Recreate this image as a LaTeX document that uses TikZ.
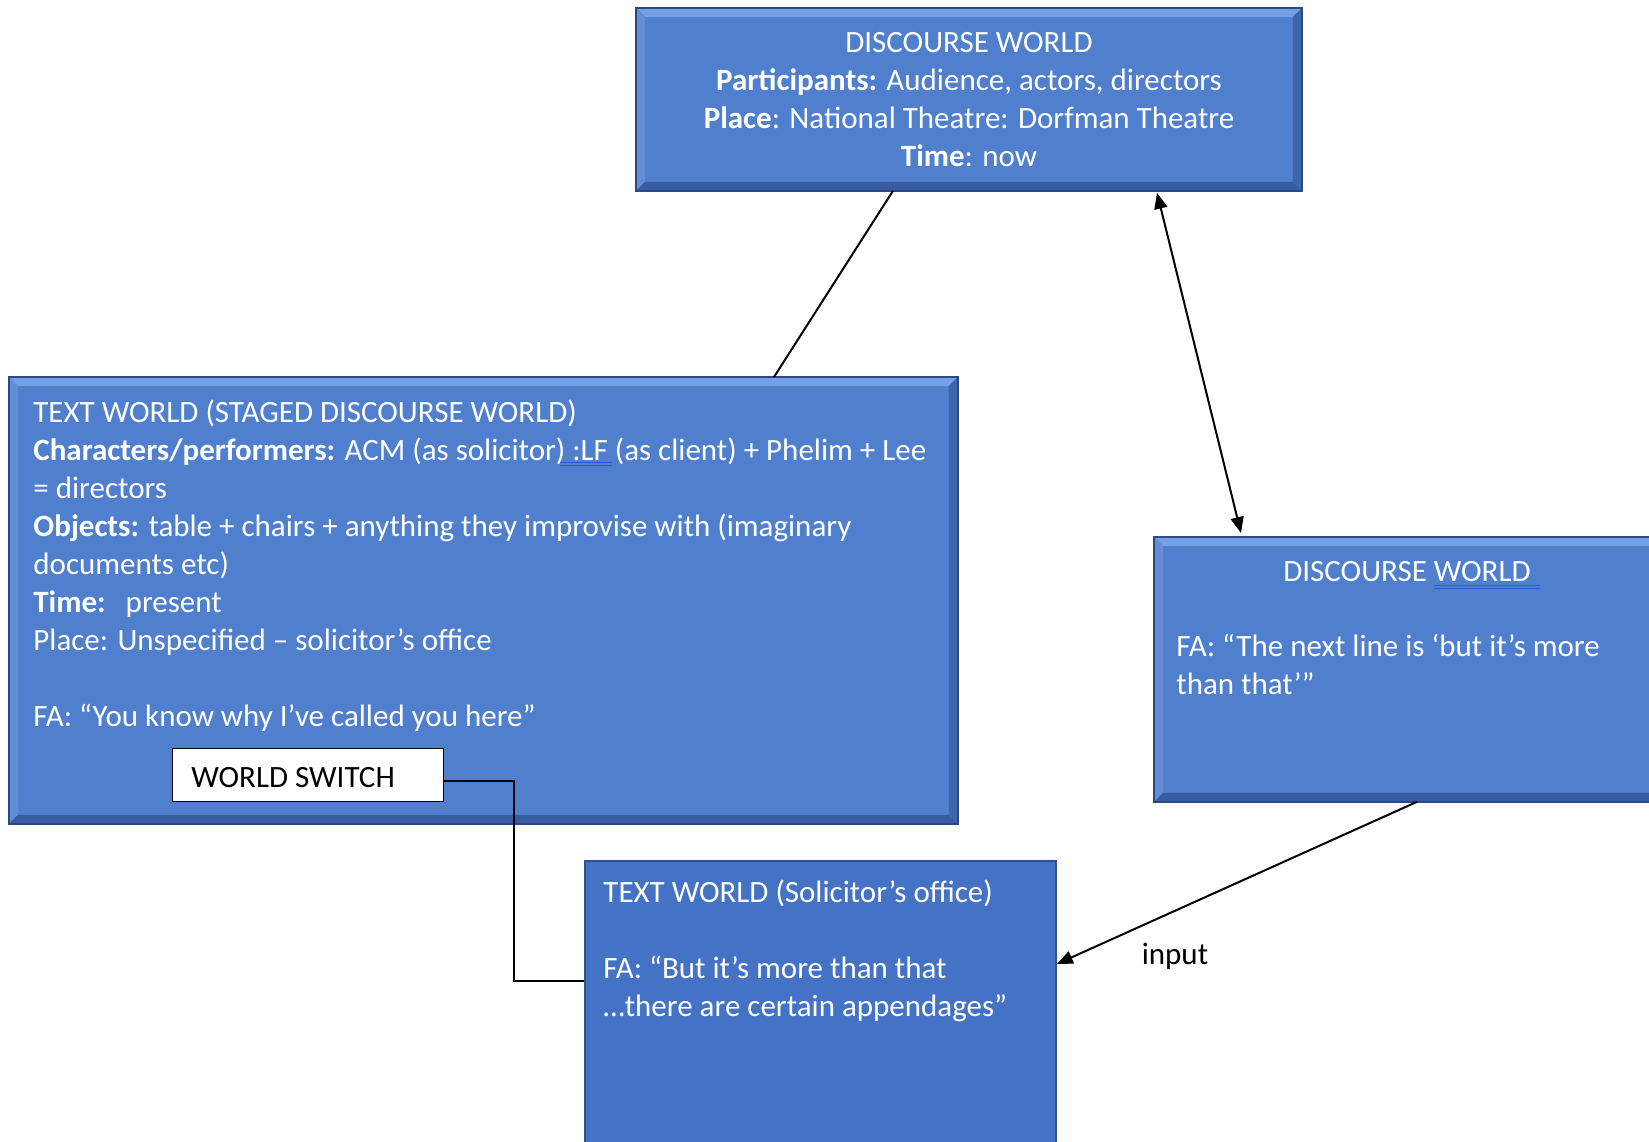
\documentclass[tikz,border=0pt]{standalone}
\usepackage{fontspec}
\setmainfont{Carlito}
\usetikzlibrary{arrows.meta,calc}

\definecolor{worldfill}{RGB}{79,127,205}
\definecolor{bevtop}{RGB}{116,160,229}
\definecolor{bevleft}{RGB}{98,142,216}
\definecolor{bevbottom}{RGB}{55,92,160}
\definecolor{bevright}{RGB}{62,101,172}
\definecolor{worldedge}{RGB}{44,74,130}
\definecolor{flatfill}{RGB}{68,114,196}
\definecolor{flatedge}{RGB}{47,82,143}
\definecolor{spellblue}{RGB}{40,90,220}

% raised (bevelled) box edges drawn over a node
\newcommand\bevelframe[1]{%
  \fill[bevtop] (#1.north west) -- (#1.north east) -- ([shift={(-4.5pt,-4.5pt)}]#1.north east) -- ([shift={(4.5pt,-4.5pt)}]#1.north west) -- cycle;
  \fill[bevleft] (#1.north west) -- (#1.south west) -- ([shift={(4.5pt,4.5pt)}]#1.south west) -- ([shift={(4.5pt,-4.5pt)}]#1.north west) -- cycle;
  \fill[bevbottom] (#1.south west) -- (#1.south east) -- ([shift={(-4.5pt,4.5pt)}]#1.south east) -- ([shift={(4.5pt,4.5pt)}]#1.south west) -- cycle;
  \fill[bevright] (#1.north east) -- (#1.south east) -- ([shift={(-4.5pt,4.5pt)}]#1.south east) -- ([shift={(-4.5pt,-4.5pt)}]#1.north east) -- cycle;
  \draw[worldedge, line width=0.8pt] (#1.north west) rectangle (#1.south east);
}

\tikzset{
  world/.style={fill=worldfill, draw=none, anchor=north west, inner sep=0pt},
  flatworld/.style={fill=flatfill, draw=flatedge, line width=0.9pt, anchor=north west, inner sep=0pt},
  wtext/.style={text=white, inner sep=0pt, font=\fontsize{15.5pt}{19pt}\selectfont},
  btext/.style={text=black, inner sep=0pt, font=\fontsize{15.5pt}{19pt}\selectfont},
  switchbox/.style={fill=white, draw=black, line width=0.6pt, anchor=north west, inner sep=0pt},
  conn/.style={draw=black, line width=1pt},
  tip/.style={-{Triangle[length=8pt,width=6.5pt]}},
  tips/.style={{Triangle[length=8pt,width=6.5pt]}-{Triangle[length=8pt,width=6.5pt]}},
  spellmark/.style={draw=spellblue, line width=0.5pt},
}

\begin{document}
\begin{tikzpicture}[x=0.5pt, y=-0.5pt]
  \useasboundingbox (0,0) rectangle (1649,1141);
  \clip (0,0) rectangle (1649,1141);

  % top: discourse world of the performance
  \node[world, minimum width=332.5pt, minimum height=91pt] (dw) at (636,8) {};
  \bevelframe{dw}
  \node[wtext, align=center, anchor=north] (dwtext) at (969,32) {%
    DISCOURSE WORLD\\
    \textbf{Participants:} Audience, actors, directors\\
    \textbf{Place}: National Theatre: Dorfman Theatre\\
    \textbf{Time}: now};

  % left: staged text world
  \node[world, minimum width=474pt, minimum height=223pt] (tw) at (9,377) {};
  \bevelframe{tw}
  \node[wtext, align=left, anchor=north west] (twtext) at (33,399) {%
    TEXT WORLD (STAGED DISCOURSE WORLD)\\
    \textbf{Characters/performers:} ACM (as solicitor) :LF (as client) + Phelim + Lee\\
    = directors\\
    \textbf{Objects:} table + chairs + anything they improvise with (imaginary\\
    documents etc)\\
    \textbf{Time:}\hspace{10pt}present\\
    Place: Unspecified – solicitor’s office\\[19pt]
    FA: “You know why I’ve called you here”};
  % spelling marks under ") :LF"
  \draw[spellmark] (560,462) -- (612,462);
  \draw[spellmark] (560,465.5) -- (612,465.5);

  % world switch marker
  \node[switchbox, minimum width=135.5pt, minimum height=26.5pt] (ws) at (172,748) {};
  \node[btext, anchor=west] (wstext) at (191,778) {WORLD SWITCH};

  % right: discourse world of the rehearsal
  \node[world, minimum width=258pt, minimum height=132pt] (dw2) at (1154,537) {};
  \bevelframe{dw2}
  \node[wtext, anchor=north] (dw2title) at (1407,561) {DISCOURSE WORLD};
  \node[wtext, align=left, anchor=north west] (dw2text) at (1176,634) {%
    FA: “The next line is ‘but it’s more\\
    than that’”};
  % spelling marks under "WORLD"
  \draw[spellmark] (1434,585) -- (1540,585);
  \draw[spellmark] (1434,588.5) -- (1540,588.5);

  % bottom: text world of the solicitor's office
  \node[flatworld, minimum width=235.5pt, minimum height=150pt] (tw2) at (584,860) {};
  \node[wtext, align=left, anchor=north west] (tw2text) at (603,879) {%
    TEXT WORLD (Solicitor’s office)\\[19pt]
    FA: “But it’s more than that\\
    …there are certain appendages”};

  % connectors
  \draw[conn] ([xshift=128.5pt]dw.south west) -- ([xshift=382.5pt]tw.north west);
  \draw[conn, tips] ([shift={(260.5pt,-1pt)}]dw.south west) -- ([shift={(43.5pt,2pt)}]dw2.north west);
  \draw[conn, tip] ([xshift=131.5pt]dw2.south west) -- ([yshift=-52pt]tw2.north east);
  \draw[conn] ([yshift=-2.75pt]ws.east) -- ++(35pt,0) |- ([yshift=-60.5pt]tw2.north west);

  \node[btext] (inp) at (1175,956) {input};
\end{tikzpicture}
\end{document}
